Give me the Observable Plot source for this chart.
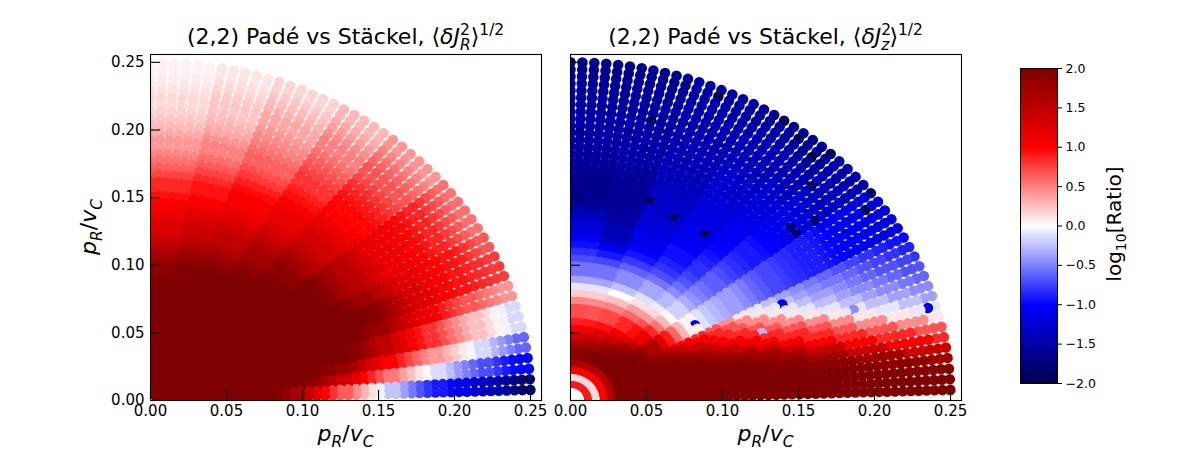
<!DOCTYPE html>
<html><head><meta charset="utf-8">
<script src="https://cdn.jsdelivr.net/npm/d3@7"></script>
<script src="https://cdn.jsdelivr.net/npm/@observablehq/plot@0.6"></script>
<style>
body{margin:0;background:#fff;}
#fig{position:relative;width:1200px;height:450px;font-family:"DejaVu Sans";overflow:hidden;}
#fig svg{position:absolute;top:0;overflow:visible;}
</style></head><body><div id="fig"></div>
<script>
// ---- data ----
// ray angles (degrees) of the polar sampling grid
const angles = [1.8,3.6,5.4,7.2,9,10.8,12.6,14.4,16.2,18,19.8,21.6,23.4,25.2,27,28.8,30.6,32.4,34.2,36,
  37.8,39.6,41.4,43.2,45,46.8,48.6,50.4,52.2,54,55.8,57.6,59.4,61.2,63,64.8,66.6,68.4,70.2,72,
  73.8,75.6,77.4,79.2,81,82.8,84.6,86.4,88.2,90];
// ring radii (p/v_C) of the grid
const radii = [0.0052,0.0104,0.0156,0.0208,0.026,0.0313,0.0365,0.0417,0.0469,0.0521,0.0573,0.0625,
  0.0677,0.0729,0.0781,0.0833,0.0885,0.0938,0.099,0.1042,0.1094,0.1146,0.1198,0.125,0.1302,0.1354,
  0.1406,0.1458,0.151,0.1563,0.1615,0.1667,0.1719,0.1771,0.1823,0.1875,0.1927,0.1979,0.2031,0.2083,
  0.2135,0.2188,0.224,0.2292,0.2344,0.2396,0.2448,0.25];
const ringBand = 0.00625;   // width of the radial bands of the value tables

// Left panel (J_R): log10 ratio per angle band (rows, low to high angle) and radial band (columns)
const angleEdgesJR = [4.5,8.5,12.5,16.5,20.5,25.5,30.5,40.5,50.5,60.5,70.5,80.5];
const ratioJR = [
  [2,2,2,2,2,2,2,2,2,2,2,2,2,1.95,1.85,1.68,1.43,1.2,1.0,0.81,0.64,0.46,0.29,0.11,-0.06,-0.23,-0.38,-0.53,-0.68,-0.8,-0.9,-0.99,-1.06,-1.15,-1.25,-1.35,-1.45,-1.58,-1.73,-1.85],
  [2,2,2,2,2,2,2,2,2,2,2,2,2,2,2,1.97,1.93,1.84,1.71,1.56,1.39,1.21,1.04,0.86,0.69,0.53,0.38,0.24,0.11,-0.01,-0.14,-0.26,-0.39,-0.5,-0.6,-0.7,-0.8,-0.89,-0.96,-1.05],
  [2,2,2,2,2,2,2,2,2,2,2,2,2,2,2,2,2,2,1.96,1.9,1.8,1.66,1.49,1.33,1.18,1.03,0.88,0.74,0.61,0.5,0.4,0.3,0.2,0.09,-0.04,-0.16,-0.29,-0.4,-0.5,-0.6],
  [2,2,2,2,2,2,2,2,2,2,2,2,2,2,2,2,2,2,2,2,2,1.96,1.89,1.78,1.63,1.48,1.33,1.19,1.06,0.94,0.81,0.69,0.56,0.45,0.35,0.25,0.15,0.05,-0.05,-0.15],
  [2,2,2,2,2,2,2,2,2,2,2,2,2,2,2,2,2,2,2,2,2,2,2,1.96,1.89,1.79,1.66,1.54,1.41,1.29,1.16,1.04,0.91,0.81,0.74,0.66,0.59,0.53,0.48,0.42],
  [2,2,2,2,2,2,2,2,2,2,2,2,2,2,2,2,2,2,2,2,2,2,2,2,2,1.94,1.81,1.69,1.56,1.44,1.31,1.2,1.1,1.03,0.98,0.93,0.88,0.84,0.81,0.78],
  [2,2,2,2,2,2,2,2,2,2,2,2,2,2,2,2,2,2,2,2,2,2,2,1.95,1.85,1.74,1.61,1.5,1.4,1.3,1.2,1.13,1.08,1.03,0.98,0.93,0.88,0.81,0.74,0.66],
  [2,2,2,2,2,2,2,2,2,2,2,2,2,2,2,2,2,2,2,2,2,1.96,1.89,1.79,1.66,1.55,1.45,1.35,1.25,1.18,1.13,1.08,1.03,0.98,0.93,0.86,0.79,0.71,0.64,0.56],
  [2,2,2,2,2,2,2,2,2,2,2,2,2,2,2,2,2,2,2,1.96,1.89,1.79,1.66,1.55,1.45,1.35,1.25,1.16,1.09,1.03,0.98,0.93,0.88,0.81,0.74,0.67,0.61,0.55,0.48,0.41],
  [2,2,2,2,2,2,2,2,2,2,2,2,2,2,2,2,2,1.97,1.9,1.8,1.7,1.6,1.48,1.36,1.25,1.17,1.1,1.03,0.95,0.88,0.8,0.74,0.68,0.62,0.56,0.5,0.45,0.39,0.33,0.28],
  [2,2,2,2,2,2,2,2,2,2,2,2,2,2,2,2,1.95,1.85,1.75,1.62,1.5,1.4,1.3,1.2,1.12,1.05,0.97,0.88,0.78,0.7,0.62,0.56,0.5,0.45,0.4,0.35,0.3,0.25,0.21,0.17],
  [2,2,2,2,2,2,2,2,2,2,2,2,2,2,2,1.97,1.9,1.78,1.65,1.52,1.4,1.3,1.2,1.1,1.02,0.93,0.84,0.74,0.65,0.57,0.49,0.42,0.35,0.3,0.25,0.22,0.2,0.16,0.13,0.1],
  [2,2,2,2,2,2,2,2,2,2,2,2,2,2,1.96,1.89,1.76,1.64,1.51,1.39,1.26,1.16,1.09,1.02,0.95,0.85,0.74,0.64,0.56,0.48,0.4,0.33,0.27,0.22,0.18,0.15,0.12,0.09,0.07,0.05]
];

// Right panel (J_z)
// innermost radial bands (all angles)
const ringsJz = [0,0.9,0.15,1.0,1.6];
// below this angle the picture shows horizontal bands: log10 ratio per p_z band of width bandStep
const bandAngle = 30;
const bandStep = 0.005;
const bandJz = [2,2,2,2,1.97,1.9,1.72,1.42,1.05,0.85,0.68,0.45,0.1,-0.1,-0.25,-0.37,-0.45,-0.53,-0.6,-0.68,
  -0.74,-0.8,-0.87,-0.93,-0.98,-1.03,-1.08,-1.12,-1.16,-1.2,-1.23,-1.25];
// above it: rows per angle band, columns per radial band
const angleEdgesJz = [38.5,45.5,50.5,60.5,70.5,80.5];
const ratioJz = [
  [0,0.9,0.15,1.0,1.6,2,2,2,2,1.9,1.65,1.25,0.9,0.6,0.3,0.05,-0.12,-0.22,-0.28,-0.33,-0.38,-0.45,-0.52,-0.6,-0.66,-0.72,-0.77,-0.81,-0.84,-0.87,-0.89,-0.92,-0.96,-1.0,-1.04,-1.08,-1.12,-1.16,-1.19,-1.22],
  [0,0.9,0.15,1.0,1.6,2,2,1.95,1.78,1.5,1.15,0.85,0.55,0.28,0.02,-0.18,-0.32,-0.42,-0.5,-0.57,-0.63,-0.7,-0.76,-0.82,-0.86,-0.9,-0.95,-1.0,-1.04,-1.08,-1.12,-1.16,-1.2,-1.25,-1.3,-1.34,-1.38,-1.42,-1.45,-1.48],
  [0,0.9,0.15,1.0,1.6,2,1.97,1.82,1.55,1.25,0.95,0.68,0.4,0.15,-0.08,-0.28,-0.45,-0.57,-0.67,-0.75,-0.82,-0.88,-0.93,-0.98,-1.02,-1.05,-1.08,-1.11,-1.14,-1.17,-1.2,-1.24,-1.28,-1.33,-1.38,-1.43,-1.48,-1.53,-1.57,-1.6],
  [0,0.9,0.15,1.0,1.6,2,1.9,1.7,1.4,1.1,0.85,0.6,0.38,0.12,-0.12,-0.35,-0.55,-0.7,-0.8,-0.88,-0.95,-1.02,-1.07,-1.12,-1.14,-1.16,-1.18,-1.2,-1.23,-1.25,-1.28,-1.3,-1.33,-1.36,-1.38,-1.4,-1.45,-1.5,-1.53,-1.56],
  [0,0.9,0.15,1.0,1.6,1.95,1.75,1.5,1.2,0.95,0.72,0.5,0.25,0.0,-0.25,-0.45,-0.62,-0.78,-0.92,-1.02,-1.12,-1.18,-1.23,-1.27,-1.3,-1.32,-1.35,-1.37,-1.4,-1.4,-1.4,-1.4,-1.4,-1.42,-1.44,-1.45,-1.45,-1.47,-1.48,-1.5],
  [0,0.9,0.15,1.0,1.6,1.9,1.65,1.4,1.12,0.9,0.68,0.45,0.2,-0.1,-0.35,-0.55,-0.72,-0.9,-1.1,-1.3,-1.42,-1.5,-1.55,-1.58,-1.6,-1.6,-1.57,-1.55,-1.52,-1.5,-1.5,-1.5,-1.5,-1.5,-1.5,-1.52,-1.55,-1.57,-1.6,-1.62],
  [0,0.9,0.15,1.0,1.6,1.85,1.55,1.3,1.05,0.87,0.7,0.47,0.2,-0.1,-0.35,-0.55,-0.7,-0.82,-0.95,-1.05,-1.2,-1.35,-1.5,-1.6,-1.65,-1.65,-1.62,-1.6,-1.57,-1.55,-1.52,-1.5,-1.5,-1.5,-1.52,-1.55,-1.57,-1.6,-1.62,-1.65]
];
// isolated odd points in the J_z panel: [p_R, p_z, log10 ratio]
const spotsJz = [
  [0.2336,0.0695,-1.1],[0.139,0.0727,-1.1],[0.186,0.068,-0.45],[0.0833,0.0567,-1.0],[0.126,0.0505,-0.3],
  [0.091,0.122,-1.9],[0.055,0.146,-1.9],[0.071,0.135,-1.9],[0.097,0.223,-2.0],[0.1414,0.2034,-1.95],
  [0.148,0.196,-1.95],[0.1546,0.181,-1.95],[0.1678,0.183,-1.95],[0.194,0.155,-1.95],[0.191,0.143,-1.9],
  [0.159,0.135,-1.85],[0.1428,0.129,-1.85],[0.054,0.205,-1.85],[0.15,0.1206,-1.8],[0.1546,0.159,-1.9]
];
const xTicks = [0,0.05,0.1,0.15,0.2,0.25];
const yTicks = [0,0.05,0.1,0.15,0.2,0.25];
const cbTicks = [-2,-1.5,-1,-0.5,0,0.5,1,1.5,2];
const cbStops = [-2,-1,0,1,2];
const cbColors = ["#00004c","#0000ff","#ffffff","#ff0000","#7f0000"];

// ---- look-ups ----
const band = r => Math.floor(r / ringBand + 1e-9);
function valueJR(r, a) {
  return ratioJR[d3.bisect(angleEdgesJR, a)][Math.min(39, band(r))];
}
function valueJz(r, a, y) {
  const rb = band(r);
  if (rb < ringsJz.length) return ringsJz[rb];
  if (a < bandAngle) return bandJz[Math.min(bandJz.length - 1, Math.floor(y / bandStep))];
  return ratioJz[d3.bisect(angleEdgesJz, a)][Math.min(39, rb)];
}
function field(valueOf, spots) {
  const grid = radii.map(r => angles.map(a => {
    const t = a * Math.PI / 180;
    return valueOf(r, a, r * Math.sin(t));
  }));
  for (const [sx, sy, v] of spots) {
    const r = Math.hypot(sx, sy), a = Math.atan2(sy, sx) * 180 / Math.PI;
    grid[d3.minIndex(radii, q => Math.abs(q - r))][d3.minIndex(angles, q => Math.abs(q - a))] = v;
  }
  const pts = [];
  for (let i = radii.length - 1; i >= 0; i--)
    for (let j = angles.length - 1; j >= 0; j--) {
      const r = radii[i], t = angles[j] * Math.PI / 180;
      pts.push({x: r * Math.cos(t), y: r * Math.sin(t), v: grid[i][j]});
    }
  return pts;
}

const color = {type: "linear", domain: cbStops, range: cbColors, interpolate: "rgb", clamp: true};
const FH = 346, FW = 391, TL = 10;
function panel(points, showY, left) {
  const ml = showY ? 150 : 10, mr = 19;
  const marks = [
    Plot.dot(points, {x: "x", y: "y", fill: "v", r: 5.3, clip: true}),
    Plot.frame({stroke: "black", strokeWidth: 1.1}),
    Plot.axisX(xTicks, {tickSize: 0, tickPadding: 5, tickFormat: ".2f", label: null}),
    Plot.ruleX(xTicks, {x: d => d, insetTop: FH - TL, stroke: "black", strokeWidth: 1.1}),
    Plot.ruleY(yTicks, {y: d => d, insetRight: FW - TL, stroke: "black", strokeWidth: 1.1})
  ];
  if (showY) marks.push(Plot.axisY(yTicks, {tickSize: 0, tickPadding: 6, tickFormat: ".2f", label: null}));
  const svg = Plot.plot({
    width: ml + FW + mr, height: 450,
    marginLeft: ml, marginRight: mr, marginTop: 54, marginBottom: 50,
    x: {domain: [0, 0.2572], label: null},
    y: {domain: [0, 0.2558], label: null, axis: showY ? undefined : null},
    color,
    style: {fontFamily: "DejaVu Sans", fontSize: "15px", background: "transparent", color: "black", overflow: "visible"},
    marks
  });
  svg.style.left = left + "px";
  return svg;
}

const fig = document.getElementById("fig");
fig.appendChild(panel(field(valueJR, []), true, 0));
fig.appendChild(panel(field(valueJz, spotsJz), false, 560));

// colorbar
let cbMark;
try {
  cbMark = Plot.raster({x1: 0, x2: 1, y1: -2, y2: 2, fill: (x, y) => y});
} catch (e) {
  cbMark = Plot.rectY(d3.range(-2, 2, 0.01), {x1: 0, x2: 1, y1: d => d, y2: d => d + 0.011, fill: d => d + 0.005});
}
const cb = Plot.plot({
  width: 220, height: 450, marginLeft: 40, marginRight: 143, marginTop: 68, marginBottom: 67,
  x: {domain: [0, 1], axis: null},
  y: {domain: [-2, 2], axis: null},
  color,
  style: {fontFamily: "DejaVu Sans", fontSize: "12.5px", background: "transparent", color: "black", overflow: "visible"},
  marks: [
    cbMark,
    Plot.frame({stroke: "black", strokeWidth: 1}),
    Plot.axisY(cbTicks, {anchor: "right", tickSize: 4, tickPadding: 4, tickFormat: ".1f", label: null})
  ]
});
cb.style.left = "980px";
fig.appendChild(cb);

// text overlay (titles and axis labels with sub/superscripts)
const ov = d3.select(fig).append("svg").attr("width", 1200).attr("height", 450)
  .style("left", "0px").style("pointer-events", "none");
function mathText(x, y, size, spans, rot = 0) {
  const t = ov.append("text").attr("transform", `translate(${x},${y}) rotate(${rot})`)
    .attr("text-anchor", "middle").attr("font-size", size).attr("font-family", "DejaVu Sans").attr("fill", "black");
  let cur = 0;
  for (const s of spans) {
    const off = (s.off || 0) * size;
    const ts = t.append("tspan").text(s.t).attr("dy", off - cur);
    cur = off;
    if (s.scale) ts.attr("font-size", size * s.scale);
    if (s.it) ts.attr("font-style", "italic");
    if (s.dx) ts.attr("dx", s.dx * size);
  }
}
function title(sub) {
  return [{t: "(2,2) Padé vs Stäckel, ⟨"}, {t: "δJ", it: true}, {t: "2", off: -0.42, scale: 0.7},
    {t: sub, it: true, off: 0.25, scale: 0.7, dx: -0.445}, {t: "⟩", off: 0}, {t: "1/2", off: -0.42, scale: 0.7}];
}
const pLabel = [{t: "p", it: true}, {t: "R", it: true, off: 0.25, scale: 0.7}, {t: "/", off: 0},
  {t: "v", it: true}, {t: "C", it: true, off: 0.25, scale: 0.7}];
mathText(345.5, 44, 22, title("R"));
mathText(765.5, 44, 22, title("z"));
mathText(345.5, 441, 22, pLabel);
mathText(765.5, 441, 22, pLabel);
mathText(96, 227, 22, pLabel, -90);
mathText(1121, 224, 20, [{t: "log"}, {t: "10", off: 0.25, scale: 0.7}, {t: "[Ratio]", off: 0}], -90);
</script></body></html>
